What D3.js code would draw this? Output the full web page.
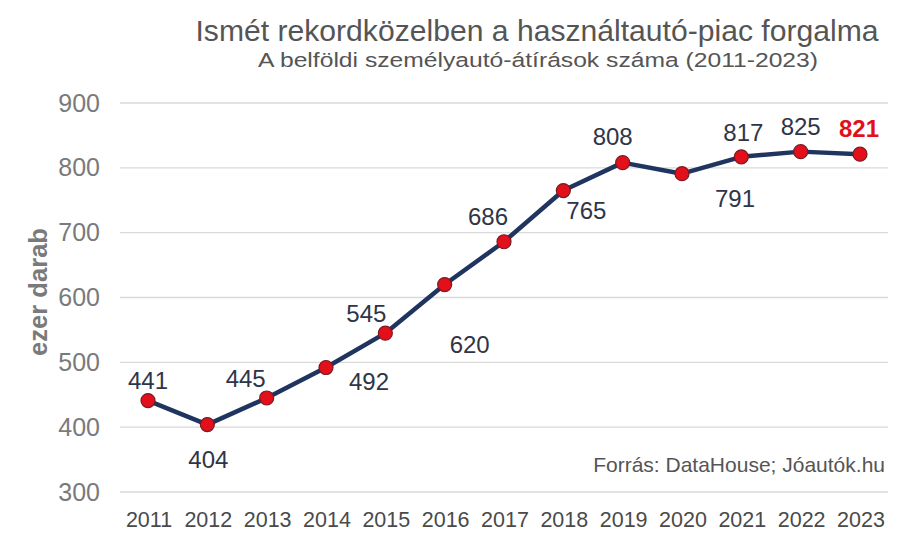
<!DOCTYPE html>
<html><head><meta charset="utf-8">
<script src="https://cdn.jsdelivr.net/npm/d3@7"></script>
<style>body{margin:0;background:#fff}svg{font-family:"Liberation Sans",Arial,sans-serif}</style>
</head><body><svg id="c" width="916" height="540"></svg>
<script>
const years = ["2011","2012","2013","2014","2015","2016","2017","2018","2019","2020","2021","2022","2023"];
const values = [441,404,445,492,545,620,686,765,808,791,817,825,821];
const yTicks = [300,400,500,600,700,800,900];
const title = "Ismét rekordközelben a használtautó-piac forgalma";
const subtitle = "A belföldi személyautó-átírások száma (2011-2023)";
const yTitle = "ezer darab";
const source = "Forrás: DataHouse; Jóautók.hu";

// label placement (layout only): offset of each value label from its point, in px
const labelDx = [0, 1, -21, 43, -19, 25, -16, 23, -10, 53, 2, 0, -1];
const labelDy = [-12, 43, -11, 22, -11, 68, -17, 28, -18, 33, -16, -17, -17];

const svg = d3.select("#c");
const x = d3.scalePoint().domain(years).range([148,860]);
const y = d3.scaleLinear().domain([300,900]).range([492,103]);

svg.append("text").attr("x",537).attr("y",41).attr("text-anchor","middle")
  .attr("font-size",29.5).attr("fill","#555").attr("textLength",683).attr("lengthAdjust","spacingAndGlyphs").text(title);
svg.append("text").attr("x",538).attr("y",67).attr("text-anchor","middle")
  .attr("font-size",20.5).attr("fill","#555").attr("textLength",560).attr("lengthAdjust","spacingAndGlyphs").text(subtitle);

const gy = svg.append("g");
gy.selectAll("line").data(yTicks).join("line")
  .attr("x1",120).attr("x2",888).attr("y1",d=>y(d)).attr("y2",d=>y(d))
  .attr("stroke","#d9d9d9").attr("stroke-width",1.3);
gy.selectAll("text").data(yTicks).join("text")
  .attr("x",100).attr("y",d=>y(d)+8.5).attr("text-anchor","end")
  .attr("font-size",25).attr("fill","#7a7a7a").text(d=>d);

svg.append("text").attr("transform","translate(46.5,292) rotate(-90)")
  .attr("text-anchor","middle").attr("font-size",25).attr("font-weight","bold")
  .attr("fill","#7a7a7a").attr("textLength",128).attr("lengthAdjust","spacingAndGlyphs").text(yTitle);

svg.append("g").selectAll("text").data(years).join("text")
  .attr("x",d=>x(d)+1).attr("y",527).attr("text-anchor","middle")
  .attr("font-size",21.5).attr("fill","#4a4a4a").text(d=>d);

svg.append("text").attr("x",885).attr("y",471.5).attr("text-anchor","end")
  .attr("font-size",21).attr("fill","#555").text(source);

const pts = years.map((d,i)=>({year:d,v:values[i],i:i,last:i===years.length-1}));
svg.append("path").datum(pts)
  .attr("d",d3.line().x(d=>x(d.year)).y(d=>y(d.v)))
  .attr("fill","none").attr("stroke","#1f3560").attr("stroke-width",4.5).attr("stroke-linejoin","round");
svg.append("g").selectAll("circle").data(pts).join("circle")
  .attr("cx",d=>x(d.year)).attr("cy",d=>y(d.v)).attr("r",7)
  .attr("fill","#e3101c").attr("stroke","#7a1a22").attr("stroke-width",1.2);
svg.append("g").selectAll("text").data(pts).join("text")
  .attr("x",d=>x(d.year)+labelDx[d.i]).attr("y",d=>y(d.v)+labelDy[d.i])
  .attr("text-anchor","middle").attr("font-size",24)
  .attr("font-weight",d=>d.last?"bold":"normal")
  .attr("fill",d=>d.last?"#e3101c":"#2e3548").text(d=>d.v);
</script></body></html>
